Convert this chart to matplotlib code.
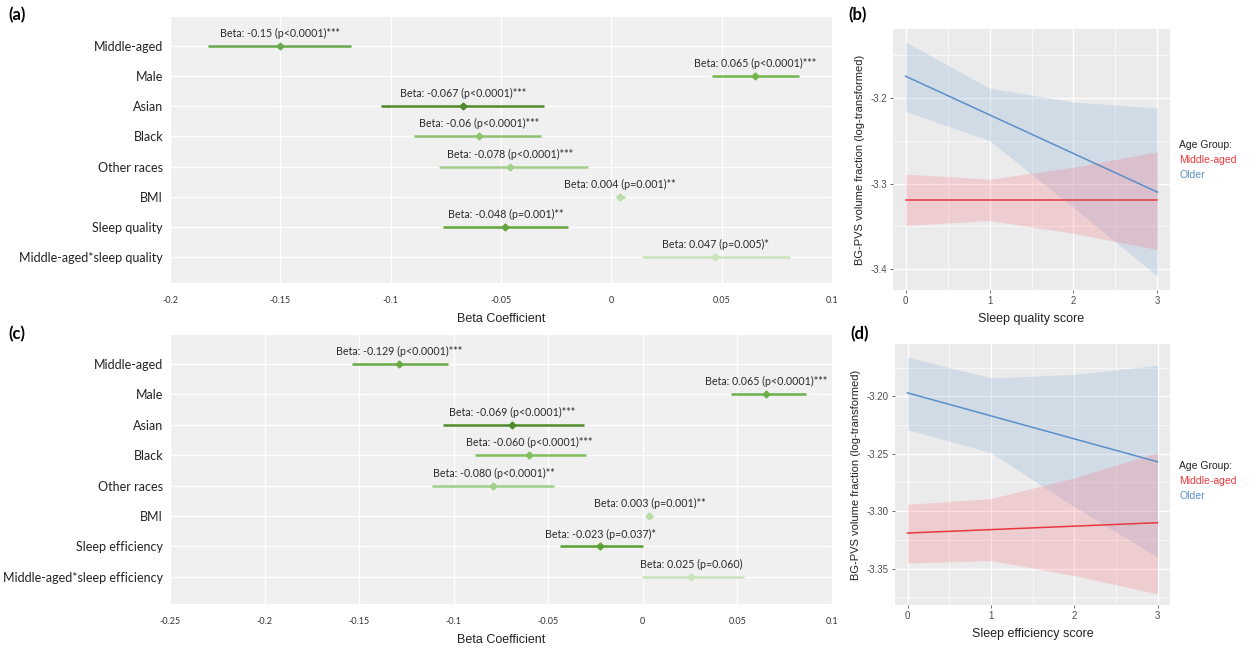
import numpy as np
import matplotlib.pyplot as plt
from matplotlib.ticker import MultipleLocator

# ---- forest plot data (a) ----
pred_a = ["Middle-aged", "Male", "Asian", "Black", "Other races", "BMI",
          "Sleep quality", "Middle-aged*sleep quality"]
beta_a = [-0.150, 0.065, -0.067, -0.060, -0.046, 0.004, -0.048, 0.047]
lo_a = [-0.183, 0.0455, -0.1045, -0.0895, -0.078, 0.002, -0.0764, 0.014]
hi_a = [-0.118, 0.085, -0.0305, -0.032, -0.0105, 0.006, -0.0195, 0.081]
lab_a = ["Beta: -0.15 (p<0.0001)***", "Beta: 0.065 (p<0.0001)***",
         "Beta: -0.067 (p<0.0001)***", "Beta: -0.06 (p<0.0001)***",
         "Beta: -0.078 (p<0.0001)***", "Beta: 0.004 (p=0.001)**",
         "Beta: -0.048 (p=0.001)**", "Beta: 0.047 (p=0.005)*"]
ticks_a = [-0.2, -0.15, -0.1, -0.05, 0, 0.05, 0.1]
ticklab_a = ["-0.2", "-0.15", "-0.1", "-0.05", "0", "0.05", "0.1"]

# ---- forest plot data (c) ----
pred_c = ["Middle-aged", "Male", "Asian", "Black", "Other races", "BMI",
          "Sleep efficiency", "Middle-aged*sleep efficiency"]
beta_c = [-0.129, 0.065, -0.069, -0.060, -0.079, 0.0035, -0.0225, 0.0257]
lo_c = [-0.154, 0.0464, -0.1058, -0.089, -0.1116, 0.0015, -0.0437, -0.0003]
hi_c = [-0.103, 0.0862, -0.031, -0.030, -0.047, 0.0055, 0.0003, 0.0533]
lab_c = ["Beta: -0.129 (p<0.0001)***", "Beta: 0.065 (p<0.0001)***",
         "Beta: -0.069 (p<0.0001)***", "Beta: -0.060 (p<0.0001)***",
         "Beta: -0.080 (p<0.0001)**", "Beta: 0.003 (p=0.001)**",
         "Beta: -0.023 (p=0.037)*", "Beta: 0.025 (p=0.060)"]
ticks_c = [-0.25, -0.2, -0.15, -0.1, -0.05, 0, 0.05, 0.1]
ticklab_c = ["-0.25", "-0.2", "-0.15", "-0.1", "-0.05", "0", "0.05", "0.1"]

# ---- predicted lines (b) sleep quality ----
score = [0, 1, 2, 3]
old_b = [-3.175, -3.220, -3.265, -3.310]
old_b_hi = [-3.135, -3.189, -3.205, -3.212]
old_b_lo = [-3.216, -3.250, -3.328, -3.408]
mid_b = [-3.319, -3.319, -3.319, -3.319]
mid_b_hi = [-3.289, -3.295, -3.281, -3.263]
mid_b_lo = [-3.349, -3.343, -3.358, -3.377]

# ---- predicted lines (d) sleep efficiency ----
old_d = [-3.197, -3.217, -3.237, -3.257]
old_d_hi = [-3.166, -3.184, -3.181, -3.173]
old_d_lo = [-3.229, -3.249, -3.296, -3.340]
mid_d = [-3.319, -3.316, -3.313, -3.310]
mid_d_hi = [-3.294, -3.289, -3.271, -3.249]
mid_d_lo = [-3.345, -3.343, -3.356, -3.372]

greens_a = ["#6aa84f", "#74b64c", "#4f8a2b", "#8dc26f", "#a3cf8b",
            "#b8dca5", "#64a53c", "#c9e3ba"]
greens_c = ["#6aaa45", "#6ab04c", "#4f8a2b", "#7fbf5f", "#a0cf88",
            "#b8dca5", "#5aa032", "#c9e3ba"]

RED = "#e8383d"
BLUE = "#5b8fc9"
LEFT_FONT = "Lato"
RIGHT_FONT = "Liberation Sans"

W, H = 1256, 648
fig = plt.figure(figsize=(12.56, 6.48), dpi=100)


def px_axes(l, t, r, b):
    return fig.add_axes([l / W, 1 - b / H, (r - l) / W, (b - t) / H])


def forest(ax, preds, beta, lo, hi, labs, colors, ticks, ticklabs, ylim):
    ax.set_facecolor("#f0f0f0")
    for s in ax.spines.values():
        s.set_visible(False)
    y = np.arange(len(preds))
    ax.set_yticks(y)
    ax.set_yticklabels(preds, fontsize=9, family=LEFT_FONT, color="#222222")
    ax.set_xticks(ticks)
    ax.set_xticklabels(ticklabs, fontsize=6.5, family=LEFT_FONT, color="#333333")
    ax.tick_params(length=0, pad=9)
    ax.tick_params(axis="y", pad=5)
    ax.grid(True, color="white", lw=1)
    ax.set_axisbelow(True)
    for i in range(len(preds)):
        ax.plot([lo[i], hi[i]], [y[i], y[i]], color=colors[i], lw=1.8,
                solid_capstyle="butt")
        ax.plot(beta[i], y[i], marker="D", ms=3.5, color=colors[i])
        ax.annotate(labs[i], (beta[i], y[i]), xytext=(0, 9),
                    textcoords="offset points", ha="center", va="center",
                    fontsize=7.7, family=LEFT_FONT, color="#2a2a2a")
    ax.set_xlim(ticks[0], ticks[-1])
    ax.set_ylim(*ylim)
    ax.set_xlabel("Beta Coefficient", fontsize=9, family=RIGHT_FONT,
                  color="#222222", labelpad=6)


def lines(ax, old, old_hi, old_lo, mid, mid_hi, mid_lo, ylim, yticks, yticklabs, xlabel):
    ax.set_facecolor("#ebebeb")
    for s in ax.spines.values():
        s.set_visible(False)
    ax.fill_between(score, old_lo, old_hi, color="#649bd2", alpha=0.2, lw=0)
    ax.fill_between(score, mid_lo, mid_hi, color="#ff5564", alpha=0.2, lw=0)
    ax.plot(score, old, color=BLUE, lw=1.1)
    ax.plot(score, mid, color=RED, lw=1.1)
    ax.set_xlim(-0.15, 3.15)
    ax.set_ylim(*ylim)
    ax.set_xticks(score)
    ax.set_xticklabels([str(s) for s in score], fontsize=7, family=RIGHT_FONT,
                       color="#4d4d4d")
    ax.xaxis.set_minor_locator(MultipleLocator(0.5))
    ax.set_yticks(yticks)
    ax.set_yticklabels(yticklabs, fontsize=7, family=RIGHT_FONT, color="#4d4d4d")
    step = yticks[1] - yticks[0]
    ax.yaxis.set_minor_locator(MultipleLocator(abs(step) / 2))
    ax.tick_params(which="major", length=2.5, color="#555555", width=0.6, pad=2)
    ax.tick_params(which="minor", length=0)
    ax.grid(True, which="major", color="white", lw=1.0)
    ax.grid(True, which="minor", color="white", lw=0.5)
    ax.set_axisbelow(True)
    ax.set_xlabel(xlabel, fontsize=9, family=RIGHT_FONT, color="#222222",
                  labelpad=5)
    ax.set_ylabel("BG-PVS volume fraction (log-transformed)", fontsize=8,
                  family=RIGHT_FONT, color="#222222", labelpad=4)


ax_a = px_axes(170, 17, 832, 283)
forest(ax_a, pred_a, beta_a, lo_a, hi_a, lab_a, greens_a, ticks_a, ticklab_a,
       (7.86, -0.96))

ax_c = px_axes(170, 335, 832, 604)
forest(ax_c, pred_c, beta_c, lo_c, hi_c, lab_c, greens_c, ticks_c, ticklab_c,
       (7.89, -0.95))

ax_b = px_axes(893, 29, 1170, 290)
lines(ax_b, old_b, old_b_hi, old_b_lo, mid_b, mid_b_hi, mid_b_lo,
      (-3.424, -3.120), [-3.4, -3.3, -3.2], ["-3.4", "-3.3", "-3.2"],
      "Sleep quality score")

ax_d = px_axes(895, 344, 1170, 605)
lines(ax_d, old_d, old_d_hi, old_d_lo, mid_d, mid_d_hi, mid_d_lo,
      (-3.3816, -3.1545), [-3.35, -3.30, -3.25, -3.20],
      ["-3.35", "-3.30", "-3.25", "-3.20"], "Sleep efficiency score")

# legends
for ytop in (145, 466):
    fig.text(1179 / W, 1 - ytop / H, "Age Group:", fontsize=7.5,
             family=RIGHT_FONT, color="#222222", va="center")
    fig.text(1179 / W, 1 - (ytop + 15) / H, "Middle-aged", fontsize=7.5,
             family=RIGHT_FONT, color=RED, va="center")
    fig.text(1179 / W, 1 - (ytop + 30) / H, "Older", fontsize=7.5,
             family=RIGHT_FONT, color=BLUE, va="center")

# panel tags
for tag, x, y in (("(a)", 8, 15), ("(c)", 8, 334), ("(b)", 848, 15), ("(d)", 850, 334)):
    fig.text(x / W, 1 - y / H, tag, fontsize=12, fontweight="bold",
             family=LEFT_FONT, va="center")

fig.savefig("out.png", dpi=100)
